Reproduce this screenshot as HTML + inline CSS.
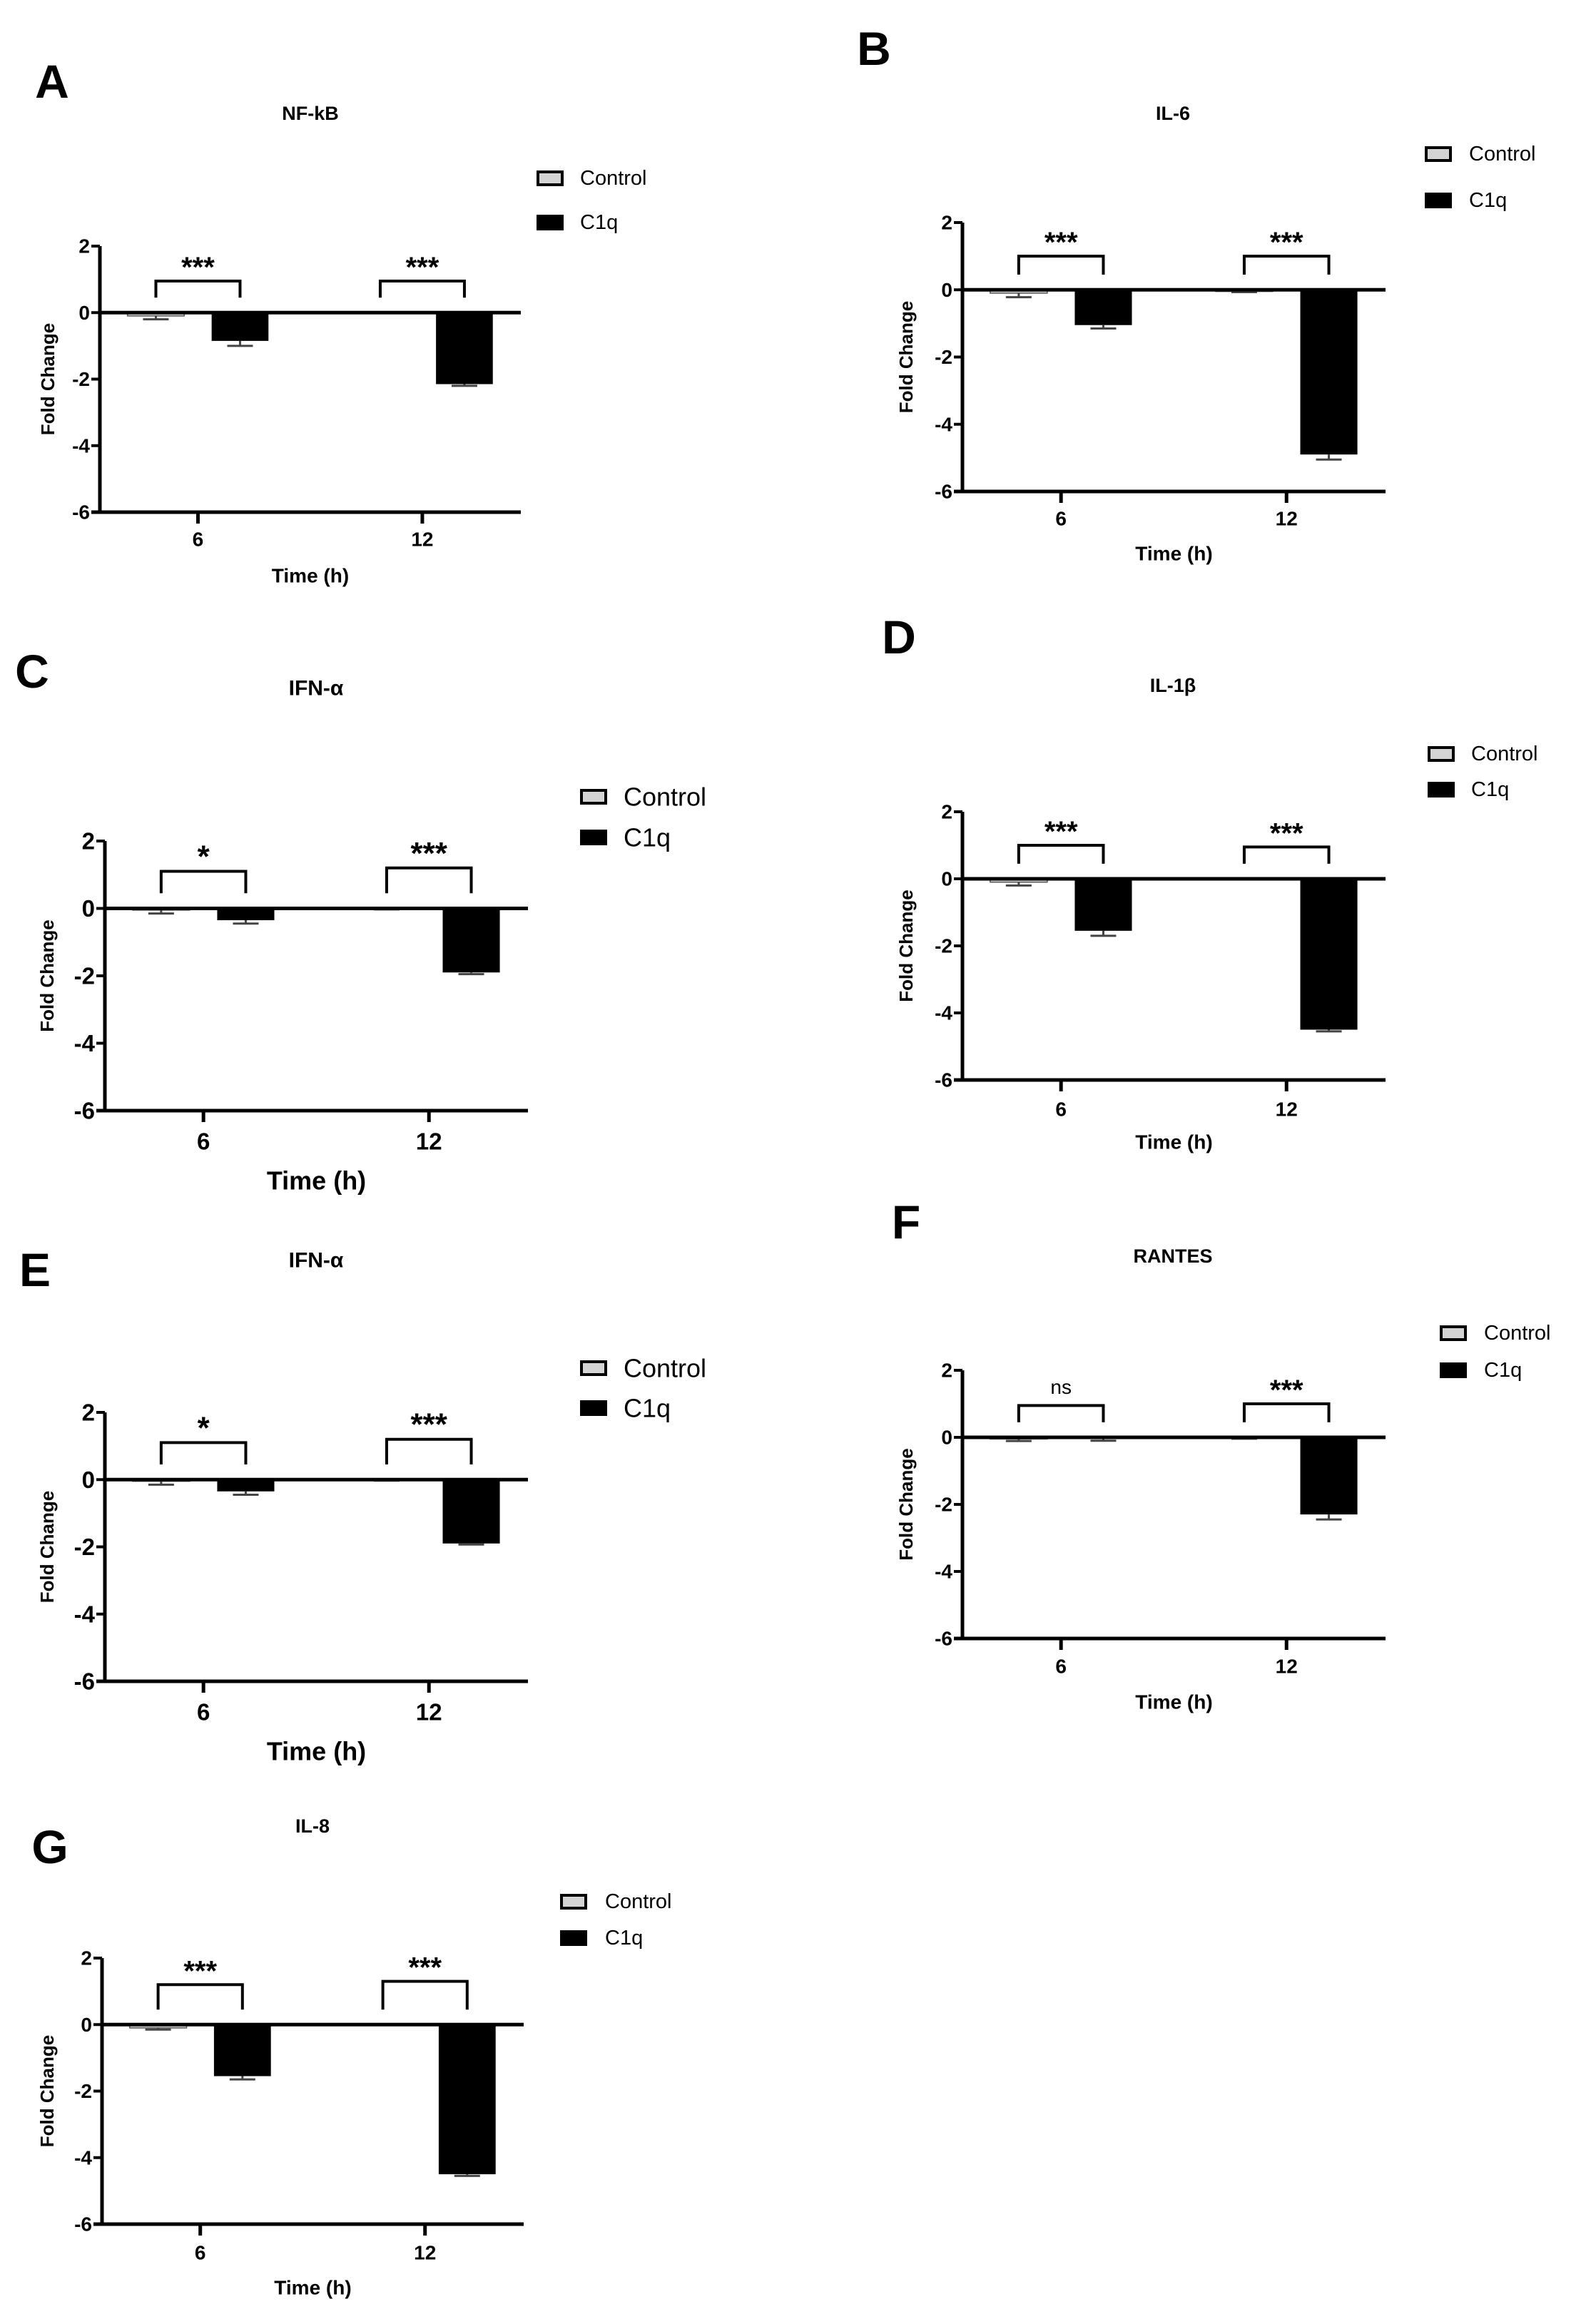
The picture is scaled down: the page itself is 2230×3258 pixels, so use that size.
<!DOCTYPE html>
<html><head><meta charset="utf-8"><style>
html,body{margin:0;padding:0;background:#fff;}
svg{display:block;}
text{font-family:"Liberation Sans",Arial,sans-serif;fill:#000;}
</style></head>
<body>
<svg id="fig" width="2230" height="3258" viewBox="0 0 2230 3258" xmlns="http://www.w3.org/2000/svg">
<rect x="0" y="0" width="2230" height="3258" fill="#fff"/>
</svg>
<script>
// ---- data ----
const panelLetters = ["A","B","C","D","E","F","G"];
const panelTitles = ["NF-kB","IL-6","IFN-α","IL-1β","IFN-α","RANTES","IL-8"];
const categories = ["6","12"];
const yTicks = [2,0,-2,-4,-6];
const seriesNames = ["Control","C1q"];
const controlMeans = [[-0.1,0],[-0.1,-0.05],[-0.05,-0.02],[-0.1,0],[-0.05,-0.02],[-0.05,-0.03],[-0.1,0]];
const controlErr   = [[0.1,0],[0.12,0.02],[0.1,0.01],[0.1,0.01],[0.1,0.01],[0.06,0.01],[0.05,0.01]];
const c1qMeans     = [[-0.85,-2.15],[-1.05,-4.9],[-0.35,-1.9],[-1.55,-4.5],[-0.35,-1.9],[0.05,-2.3],[-1.55,-4.5]];
const c1qErr       = [[0.15,0.05],[0.1,0.15],[0.1,0.05],[0.15,0.05],[0.1,0.03],[0.15,0.15],[0.1,0.05]];
const sigLabels    = [["***","***"],["***","***"],["*","***"],["***","***"],["*","***"],["ns","***"],["***","***"]];
const bracketLevels= [[0.95,0.95],[1.0,1.0],[1.1,1.2],[1.0,0.95],[1.1,1.2],[0.95,1.0],[1.2,1.3]];

// ---- layout (not data) ----
const layouts = [
 {lx:73,ly:114,tx:435,ty:159,gx:752,gy1:250,gy2:312,gt:813,ax:140,ar:730,yt:345,yb:718,tl:756,xt:807,fc:67,big:false},
 {lx:1225,ly:68,tx:1644,ty:159,gx:1997,gy1:216,gy2:281,gt:2059,ax:1349,ar:1942,yt:312,yb:689,tl:727,xt:776,fc:1270,big:false},
 {lx:45,ly:941,tx:443,ty:965,gx:813,gy1:1117,gy2:1174,gt:874,ax:147,ar:740,yt:1179,yb:1557,tl:1600,xt:1655,fc:66,big:true},
 {lx:1260,ly:893,tx:1644,ty:961,gx:2001,gy1:1057,gy2:1107,gt:2062,ax:1349,ar:1942,yt:1138,yb:1514,tl:1555,xt:1601,fc:1270,big:false},
 {lx:49,ly:1780,tx:443,ty:1767,gx:813,gy1:1918,gy2:1974,gt:874,ax:147,ar:740,yt:1980,yb:2357,tl:2400,xt:2455,fc:66,big:true},
 {lx:1270,ly:1713,tx:1644,ty:1761,gx:2018,gy1:1869,gy2:1921,gt:2080,ax:1349,ar:1942,yt:1921,yb:2297,tl:2336,xt:2386,fc:1270,big:false},
 {lx:70,ly:2589,tx:438,ty:2560,gx:785,gy1:2666,gy2:2717,gt:848,ax:143,ar:734,yt:2745,yb:3118,tl:3158,xt:3207,fc:66,big:false}
];

const NS="http://www.w3.org/2000/svg";
const svg=document.getElementById('fig');
function mk(tag,attrs,parent){const e=document.createElementNS(NS,tag);for(const k in attrs)e.setAttribute(k,attrs[k]);(parent||svg).appendChild(e);return e;}
function txt(s,attrs,parent){const e=mk('text',attrs,parent);e.textContent=s;return e;}

panelLetters.forEach((letter,p)=>{
  const L=layouts[p];
  const fTick=L.big?33:28, fAx=L.big?36:28, fTitle=L.big?30:27, fLeg=L.big?36:29;
  const g=mk('g',{});
  
  
  const w=L.ar-L.ax;
  const xC=i=>L.ax+w*(0.233+0.533*i);
  const yS=v=>L.yt+(2-v)/8*(L.yb-L.yt);
  const barOff=w*0.1, barW=w*0.135;

  let t=txt(letter,{x:L.lx,y:L.ly,'font-size':66,'font-weight':'bold','text-anchor':'middle','dominant-baseline':'central'},g);
  
  
  t=txt(panelTitles[p],{x:L.tx,y:L.ty,'font-size':fTitle,'font-weight':'bold','text-anchor':'middle','dominant-baseline':'central'},g);
  
  

  // legend
  const lg=mk('g',{},g);
  
  
  const r1=mk('rect',{x:L.gx+2,y:L.gy1-9,width:34,height:18,fill:'#d4d4d4',stroke:'#000','stroke-width':4},lg);
  
  
  t=txt(seriesNames[0],{x:L.gt,y:L.gy1,'font-size':fLeg,'dominant-baseline':'central'},lg);
  
  
  const r2=mk('rect',{x:L.gx,y:L.gy2-11,width:38,height:22,fill:'#000'},lg);
  
  
  t=txt(seriesNames[1],{x:L.gt,y:L.gy2,'font-size':fLeg,'dominant-baseline':'central'},lg);
  
  

  // bars
  categories.forEach((c,i)=>{
    const cx=xC(i);
    const y0=yS(0);
    const cv=controlMeans[p][i], cy=yS(cv);
    const cb=mk('rect',{x:cx-barOff-barW/2,y:Math.min(y0,cy),width:barW,height:Math.max(Math.abs(cy-y0),1.5),fill:'#d4d4d4',stroke:'#555','stroke-width':1.5},g);
    
    
    const ce=yS(cv-controlErr[p][i]);
    const e1=mk('path',{d:`M${cx-barOff},${cy}V${ce}M${cx-barOff-18},${ce}H${cx-barOff+18}`,stroke:'#444','stroke-width':3,fill:'none'},g);
    
    
    const qv=c1qMeans[p][i], qy=yS(qv);
    const qb=mk('rect',{x:cx+barOff-barW/2,y:Math.min(y0,qy),width:barW,height:Math.max(Math.abs(qy-y0),3),fill:'#000'},g);
    
    
    const qe=yS(qv-c1qErr[p][i]);
    const e2=mk('path',{d:`M${cx+barOff},${qy}V${qe}M${cx+barOff-18},${qe}H${cx+barOff+18}`,stroke:'#444','stroke-width':3,fill:'none'},g);
    
    
    // bracket
    const by=yS(bracketLevels[p][i]), be=yS(0.45);
    const br=mk('path',{d:`M${cx-barOff},${be}V${by}H${cx+barOff}V${be}`,stroke:'#000','stroke-width':4,fill:'none'},g);
    
    
    const lab=sigLabels[p][i];
    const isNs=lab==='ns';
    const st=txt(lab,{x:cx,y:isNs?by-26:by-6,'font-size':isNs?28:(L.big?44:40),'font-weight':isNs?'normal':'bold','text-anchor':'middle','dominant-baseline':isNs?'central':'auto'},g);
    
    
    // x tick
    const xt=mk('line',{x1:cx,y1:L.yb,x2:cx,y2:L.yb+16,stroke:'#000','stroke-width':5},g);
    
    
    const xl=txt(c,{x:cx,y:L.tl,'font-size':fTick,'font-weight':'bold','text-anchor':'middle','dominant-baseline':'central'},g);
    
    
  });

  // axes
  const ya=mk('line',{x1:L.ax,y1:L.yt,x2:L.ax,y2:L.yb+2,stroke:'#000','stroke-width':5},g);
  
  
  const xa=mk('line',{x1:L.ax-12,y1:L.yb,x2:L.ar,y2:L.yb,stroke:'#000','stroke-width':5},g);
  
  
  const zl=mk('line',{x1:L.ax,y1:yS(0),x2:L.ar,y2:yS(0),stroke:'#000','stroke-width':5},g);
  
  
  yTicks.forEach(v=>{
    const yy=yS(v);
    const tk=mk('line',{x1:L.ax-12,y1:yy,x2:L.ax,y2:yy,stroke:'#000','stroke-width':4},g);
    
    
    const tl=txt(String(v),{x:L.ax-14,y:yy,'font-size':fTick,'font-weight':'bold','text-anchor':'end','dominant-baseline':'central'},g);
    
    
  });
  const xtT=txt('Time (h)',{x:(L.ax+L.ar)/2,y:L.xt,'font-size':fAx,'font-weight':'bold','text-anchor':'middle','dominant-baseline':'central'},g);
  
  
  const ym=(L.yt+L.yb)/2;
  const ytT=txt('Fold Change',{x:L.fc,y:ym,'font-size':26,'font-weight':'bold','text-anchor':'middle','dominant-baseline':'central',transform:`rotate(-90 ${L.fc} ${ym})`},g);
  
  
});
</script>
</body></html>
